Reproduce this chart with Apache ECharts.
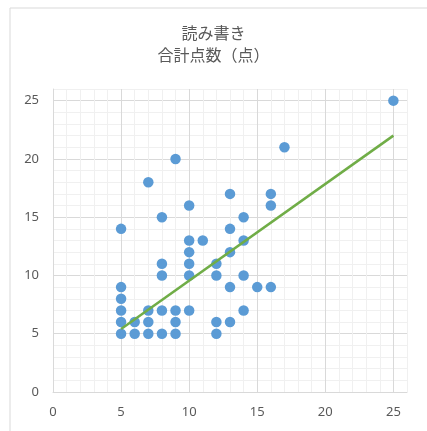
<!DOCTYPE html>
<html>
<head>
    <meta charset="UTF-8">
    <title>読み書き 合計点数</title>
    <script src="https://cdn.jsdelivr.net/npm/echarts@6/dist/echarts.min.js"></script>
    <style>
        html, body {margin: 0; padding: 0; background: #fff;}
        #chart {width: 427px; height: 431px;}
    </style>
</head>
<body>
<div id="chart"></div>
<script type="text/javascript">
    // 散布図のデータ
    var pointX = [5, 5, 5, 5, 5, 5,
        6, 6,
        7, 7, 7, 7,
        8, 8, 8, 8, 8,
        9, 9, 9, 9,
        10, 10, 10, 10, 10, 10,
        11,
        12, 12, 12, 12,
        13, 13, 13, 13, 13,
        14, 14, 14, 14,
        15,
        16, 16, 16,
        17,
        25];
    var pointY = [14, 9, 8, 7, 6, 5,
        6, 5,
        18, 7, 6, 5,
        15, 11, 10, 7, 5,
        20, 7, 6, 5,
        16, 13, 12, 11, 10, 7,
        13,
        11, 10, 6, 5,
        17, 14, 12, 9, 6,
        15, 13, 10, 7,
        9,
        17, 16, 9,
        21,
        25];
    // 近似直線の両端
    var trendX = [5, 25];
    var trendY = [5.4, 22.0];
    // 目盛ラベル
    var tickLabels = [0, 5, 10, 15, 20, 25];

    var points = pointX.map(function (x, i) { return [x, pointY[i]]; });
    var trend = trendX.map(function (x, i) { return [x, trendY[i]]; });

    var gridColors = ['#d9d9d9', '#f0f0f0', '#f0f0f0', '#f0f0f0', '#f0f0f0'];
    function labelFmt(v) {
        return tickLabels.indexOf(v) >= 0 ? String(v) : '';
    }
    function makeAxis() {
        return {
            type: 'value',
            min: 0,
            max: 26,
            interval: 1,
            axisLine: {show: true, lineStyle: {color: '#d9d9d9', width: 1}},
            axisTick: {show: false},
            axisLabel: {
                interval: 0,
                formatter: labelFmt,
                color: '#595959',
                fontSize: 13,
                margin: 14,
                fontFamily: 'Noto Sans'
            },
            splitLine: {show: true, lineStyle: {color: gridColors, width: 1}}
        };
    }

    var myChart = echarts.init(document.getElementById('chart'));
    var option = {
        animation: false,
        backgroundColor: '#fff',
        title: {
            text: '読み書き\n合計点数（点）',
            left: 'center',
            top: 17,
            textStyle: {
                color: '#595959',
                fontSize: 16,
                fontWeight: 'normal',
                lineHeight: 22,
                fontFamily: 'Noto Sans CJK JP'
            }
        },
        graphic: [{
            type: 'rect',
            shape: {x: 10, y: 8, width: 430, height: 440},
            style: {fill: 'none', stroke: '#d9d9d9', lineWidth: 1},
            silent: true
        }],
        grid: {left: 53, right: 20, top: 89, bottom: 39},
        xAxis: makeAxis(),
        yAxis: makeAxis(),
        series: [
            {
                type: 'scatter',
                data: points,
                symbolSize: 10.5,
                itemStyle: {color: '#5b9bd5', opacity: 1},
                z: 2
            },
            {
                type: 'line',
                data: trend,
                symbol: 'none',
                lineStyle: {color: '#70ad47', width: 2.5},
                z: 3
            }
        ]
    };
    myChart.setOption(option);
</script>
</body>
</html>
